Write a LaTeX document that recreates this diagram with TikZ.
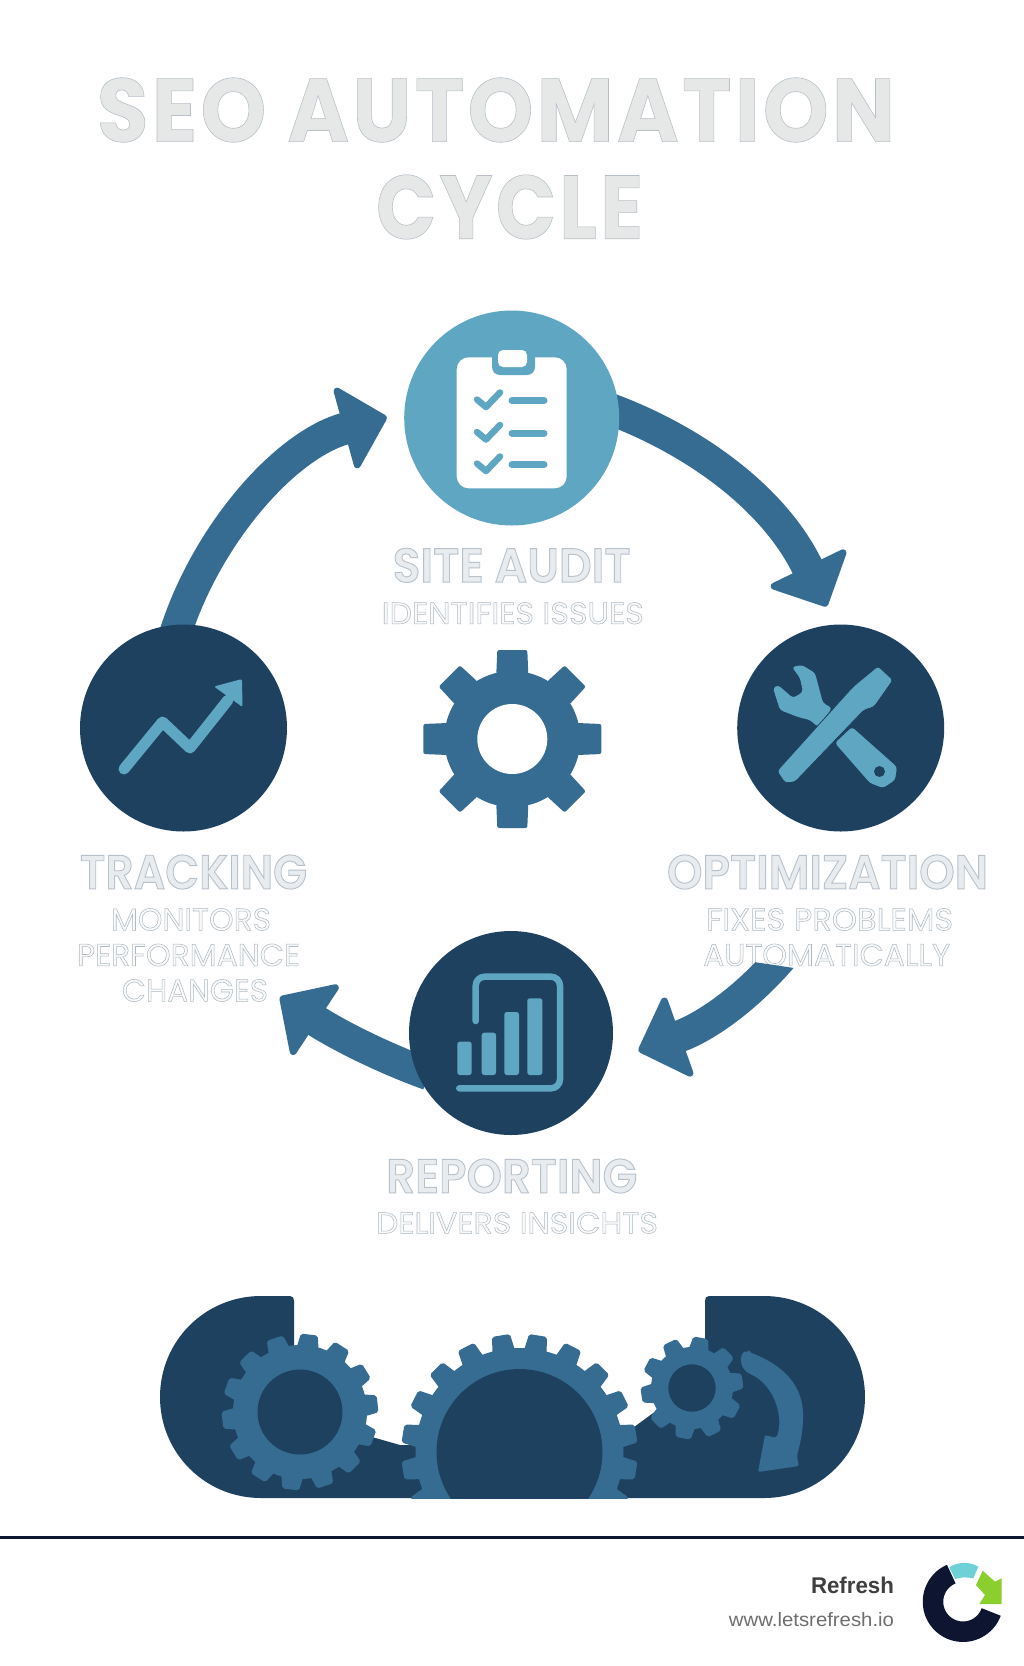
\documentclass[tikz,border=0pt]{standalone}
\usepackage{fontspec}
\usepackage{graphicx}
\usetikzlibrary{arrows.meta,backgrounds}
\setmainfont{Poppins}
\newfontfamily\titlefont{Poppins}[LetterSpace=4,BoldFont={Poppins Bold}]
\newfontfamily\headfont{Poppins SemiBold}
\newfontfamily\footfont{Liberation Sans}
\definecolor{darkblue}{HTML}{1F4160}
\definecolor{midblue}{HTML}{366C92}
\definecolor{lightblue}{HTML}{5FA6C2}
\definecolor{ruleblue}{HTML}{0E1530}
\definecolor{logocyan}{HTML}{6FD0D8}
\definecolor{logogreen}{HTML}{8BCF2E}
\definecolor{titlefill}{HTML}{E6E8E8}
\definecolor{headfill}{HTML}{E9ECEE}
\definecolor{subfill}{HTML}{F9FAFA}
% outlined text: fill colour, stroke width, stroke grey as rgb, text
\newcommand{\outlined}[4]{\textcolor{#1}{\special{pdf:code 2 Tr #2 w #3 RG}#4\special{pdf:code 0 Tr}}}
\newcommand{\fitbox}[3]{\resizebox{#1pt}{#2pt}{#3}}
\newcommand{\titletext}[3]{\fitbox{#1}{#2}{\titlefont\bfseries\fontsize{60}{60}\selectfont\outlined{titlefill}{0.4}{0.72 0.75 0.78}{#3}}}
\newcommand{\headtext}[3]{\fitbox{#1}{#2}{\headfont\fontsize{40}{40}\selectfont\outlined{headfill}{0.8}{0.72 0.76 0.80}{#3}}}
\newcommand{\subtext}[3]{\fitbox{#1}{#2}{\fontsize{30}{30}\selectfont\outlined{subfill}{0.5}{0.68 0.72 0.76}{#3}}}
\newcommand{\gearshape}[8]{%
  \begin{scope}[shift={(#1,#2)}]
    \fill[midblue] (0,0) circle[radius=#3pt];
    \foreach \i in {1,...,#5}{
      \fill[midblue,rotate={#8+360*\i/#5},rounded corners=2pt]
        ({#3-3},{-#6}) -- (#4,{-#7}) -- (#4,#7) -- ({#3-3},#6) -- cycle;
    }
  \end{scope}}
\tikzset{
  disc/.style={circle,inner sep=0pt,minimum size=#1,fill=darkblue},
  label/.style={inner sep=0pt,outer sep=0pt},
  flow/.style={draw=midblue,line width=32pt,
    -{Triangle[length=46pt,width=92pt,round,line width=7pt]}},
  iconline/.style={draw=lightblue,line cap=round,line join=round},
}
\begin{document}
\begin{tikzpicture}[x=1pt,y=-1pt]
\useasboundingbox (0,0) rectangle (1024,1666);

% title
\node[label] (titleA) at (496,110) {\titletext{798}{64}{SEO AUTOMATION}};
\node[label] (titleB) at (509.5,207) {\titletext{267}{64}{CYCLE}};

% step discs
\node[disc=215pt,fill=lightblue] (audit) at (511.7,418) {};
\node[disc=207pt] (optim) at (840.7,728) {};
\node[disc=204pt] (report) at (511,1033) {};
\node[disc=207pt] (track) at (183.5,728) {};

% arrows that run under the discs
\coordinate (trackhead) at (280,997);
\begin{scope}[on background layer]
  \fill[white] (0,0) rectangle (1024,1666);
  \draw[flow,shorten <=-14pt,shorten >=20pt] (audit.3) .. controls (680,434) and (770,490) .. (optim.93);
  \draw[flow,shorten <=-12pt,shorten >=18pt] (track.93) .. controls (206,535) and (285,445) .. (audit.177);
  \draw[flow,shorten <=-14pt] (report.201) .. controls (375,1055) and (330,1030) .. (trackhead);
\end{scope}

% labels
\node[label] (l1) at (511.7,565.3) {\headtext{238}{34}{SITE AUDIT}};
\node[label] (l2) at (512.8,613.3) {\subtext{262}{21.5}{IDENTIFIES ISSUES}};
\node[label] (l3) at (193.5,872) {\headtext{227}{34}{TRACKING}};
\node[label] (l4) at (191,919.5) {\subtext{160}{22}{MONITORS}};
\node[label] (l5) at (188.5,955) {\subtext{223}{22}{PERFORMANCE}};
\node[label] (l6) at (195,990.5) {\subtext{146}{22}{CHANGES}};
\node[label] (l7) at (827.5,872) {\headtext{321}{34}{OPTIMIZATION}};
\node[label] (l8) at (829.7,919.5) {\subtext{247}{22}{FIXES PROBLEMS}};
\node[label] (l9) at (826.7,955) {\subtext{247}{22}{AUTOMATICALLY}};
\node[label] (l10) at (511.7,1176) {\headtext{251}{34}{REPORTING}};
\node[label] (l11) at (517,1223) {\subtext{282}{21}{DELIVERS INSICHTS}};

% optimization -> reporting arrow, over the text; its tail is cut off nearly level
\coordinate (optimtail) at (792,945);
\begin{scope}
  \clip (754,962) -- (794,968) -- (800,1100) -- (600,1100) -- (600,962) -- cycle;
  \draw[flow,shorten >=31pt] (optimtail) .. controls (745,1003) and (700,1029) .. (report.-16);
\end{scope}

% centre gear
\gearshape{512.3}{739}{68}{89}{8}{16}{15}{0}
\fill[white] (512.3,739) circle[radius=35pt];

% audit icon
\fill[white,rounded corners=12pt] (456.7,357.3) rectangle (566.7,488.3);
\fill[lightblue,rounded corners=8pt] (492,346) rectangle (535,375);
\fill[white,rounded corners=5pt] (498,350) rectangle (527,367);
\foreach \dy in {0,32.5,64}{
  \draw[iconline,line width=6.5pt] (477,{399.5+\dy}) -- (486,{407+\dy}) -- (500,{392.5+\dy});
  \draw[iconline,line width=7pt] (512,{400.5+\dy}) -- (544,{400.5+\dy});
}

% tools icon
\fill[lightblue,rounded corners=3pt] (792,667) -- (802,665) -- (815,673) -- (823,703) -- (832,708) -- (818,727) -- (810,720) -- (798,717) -- (780,710) -- (773,688) -- (778,685) -- (793,698) -- (803,692) -- (800,678) -- cycle;
\fill[lightblue,rounded corners=3pt] (852,727) -- (897,767) -- (895,780) -- (883,788) -- (870,783) -- (835,743) -- cycle;
\fill[darkblue] (879.5,771.5) circle[radius=5.5pt];
\filldraw[fill=lightblue,draw=darkblue,line width=0.8pt,rounded corners=3pt] (777,771) -- (850,690) -- (855,685) -- (878,666) -- (893,680) -- (874,707) -- (864,710) -- (795,782) -- (785,783) -- cycle;

% report icon
\foreach \xa/\xb/\ya in {457.3/471.7/1041.7,481.7/496/1032.7,504.3/519/1012,527.3/542.3/998.3}{
  \fill[lightblue,rounded corners=2.5pt] (\xa,\ya) rectangle (\xb,1075);
}
\draw[iconline,line width=6.5pt,rounded corners=9pt] (475.7,1021) -- (475.7,976.7) -- (560,976.7) -- (560,1088.3) -- (459.3,1088.3);

% tracking icon
\draw[iconline,line width=11pt,line join=round] (124,769) -- (162.5,722) -- (190,748) -- (228,700);
\fill[lightblue,rounded corners=2pt] (214,686.5) -- (242,679) -- (242.5,707) -- cycle;

% bottom panel
\fill[darkblue] (261,1296) -- (290,1296) .. controls (293,1296) and (294,1298) .. (294,1301) -- (294,1380) -- (365,1435) -- (400,1445) -- (500,1445) -- (630,1430) -- (660,1408) -- (705,1365) -- (705,1301) .. controls (705,1298) and (706,1296) .. (709,1296) -- (764,1296) .. controls (820,1296) and (865,1341) .. (865,1397) .. controls (865,1453) and (820,1498) .. (764,1498) -- (261,1498) .. controls (205,1498) and (160,1453) .. (160,1397) .. controls (160,1341) and (205,1296) .. (261,1296) -- cycle;
\gearshape{300}{1412}{67}{78}{14}{11}{8.5}{6}
\fill[darkblue] (300,1412) circle[radius=42.5pt];
\begin{scope}
  \clip (380,1300) rectangle (660,1498);
  \gearshape{519.5}{1452}{104}{118}{20}{11.5}{9}{9}
  \fill[darkblue] (519.5,1452) circle[radius=83pt];
\end{scope}
\gearshape{692}{1388}{41}{51}{10}{10}{7.5}{8}
\fill[darkblue] (692,1388) circle[radius=23.7pt];
\fill[midblue,rounded corners=2pt] (749,1352) .. controls (783,1365) and (804,1385) .. (803,1420) .. controls (802,1440) and (798,1450) .. (797,1457) -- (799,1466) -- (758,1472) -- (765,1435) -- (776,1438) .. controls (784,1420) and (776,1385) .. (748,1373) .. controls (738,1365) and (740,1350) .. (749,1352) -- cycle;

% footer
\fill[ruleblue] (0,1535.5) rectangle (1024,1538.5);
\node[label] (brand) at (852.5,1585) {\fitbox{83}{16.5}{\footfont\bfseries\color[HTML]{3F3F3F}Refresh}};
\node[label] (site) at (811.5,1620) {\fitbox{165}{14}{\footfont\color[HTML]{6E6E6E}www.letsrefresh.io}};
\begin{scope}
  \clip (920,1555) rectangle (1001.7,1650);
  \draw[ruleblue,line width=20.5pt] plot[domain=113:340,samples=50,smooth] ({963+30*cos(\x)},{1601.7-30*sin(\x)});
\end{scope}
\fill[logocyan] (949.3,1567.3) .. controls (958,1561.5) and (970,1561.5) .. (978.3,1566.7) -- (973.3,1578.3) .. controls (968,1577) and (960,1577) .. (955,1579) -- cycle;
\fill[logogreen] (982.7,1570.7) -- (995,1581.7) -- (1001.7,1578.3) -- (1001.7,1604) -- (979.3,1604) -- (985,1595) -- (976,1585) -- cycle;
\end{tikzpicture}
\end{document}
